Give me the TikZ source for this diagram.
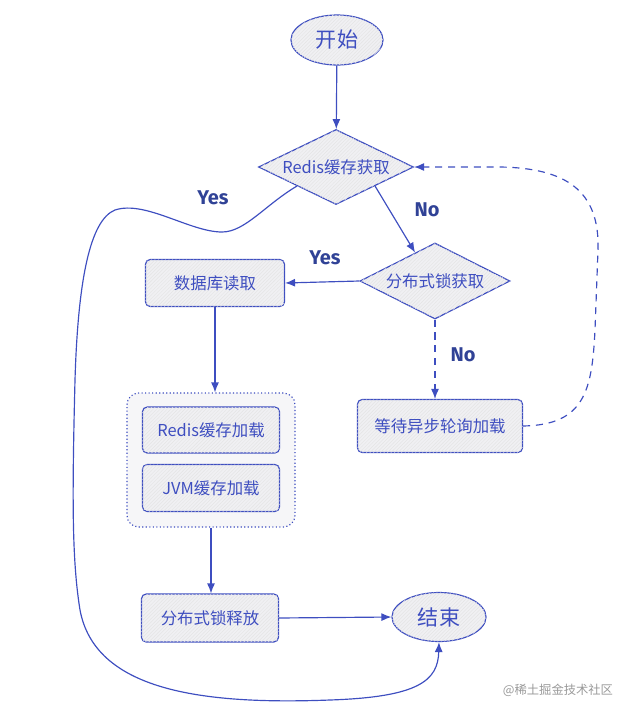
\documentclass[tikz,border=0pt]{standalone}
\usepackage{fontspec}
\setmainfont{Noto Sans CJK SC}
\newfontfamily\labelfont{Fira Sans}
\usetikzlibrary{shapes.geometric, arrows.meta, patterns}
\definecolor{inkblue}{RGB}{62,78,192}
\definecolor{labelblue}{RGB}{48,66,150}
\definecolor{paper}{RGB}{240,240,243}

\begin{document}
\begin{tikzpicture}[
  x=0.03cm, y=-0.03cm,
  every node/.style={text=inkblue, font=\fontsize{14}{16}\selectfont},
  sketch/.style={draw=inkblue, line width=1pt, fill=paper, postaction={pattern=north east lines, pattern color=black!10}},
  box/.style={sketch, rectangle, rounded corners=4pt},
  decision/.style={sketch, diamond, aspect=2, inner sep=0pt},
  terminal/.style={sketch, ellipse, font=\fontsize{18}{20}\selectfont},
  flow/.style={draw=inkblue, line width=1pt, -{Latex[length=3mm, width=2.4mm]}},
  retry/.style={flow, dash pattern=on 6pt off 5pt},
  answer/.style={text=labelblue, font=\labelfont\bfseries\fontsize{17}{19}\selectfont}
]
  \useasboundingbox (0,0) rectangle (637,717);

  \node[terminal, minimum width=2.76cm, minimum height=1.5cm] (start) at (337,40) {开始};
  \node[decision, minimum width=4.65cm, minimum height=2.25cm] (cache) at (336,167) {Redis缓存获取};
  \node[decision, minimum width=4.5cm, minimum height=2.28cm] (lock) at (435,281) {分布式锁获取};
  \node[box, minimum width=4.17cm, minimum height=1.41cm] (db) at (215,283) {数据库读取};
  \node[box, minimum width=4.95cm, minimum height=1.59cm] (wait) at (440,426) {等待异步轮询加载};

  \node[draw=inkblue, line width=1pt, dotted, rounded corners=10pt, fill=paper!60,
    minimum width=5.04cm, minimum height=4.02cm] (loadgroup) at (211,460) {};
  \node[box, minimum width=4.11cm, minimum height=1.38cm] (redisload) at (211,430) {Redis缓存加载};
  \node[box, minimum width=4.11cm, minimum height=1.41cm] (jvmload) at (211,488) {JVM缓存加载};

  \node[box, minimum width=4.11cm, minimum height=1.44cm] (unlock) at (210,618) {分布式锁释放};
  \node[terminal, minimum width=2.82cm, minimum height=1.47cm] (finish) at (439,617) {结束};

  \draw[flow] (start) -- (cache);
  \draw[flow] (cache.south east) -- (lock.125);
  \draw[flow] (lock.west) -- (db.east);
  \draw[flow] (db.south) -- (db.south |- loadgroup.north);
  \draw[flow] (loadgroup.south) -- (loadgroup.south |- unlock.north);
  \draw[flow] (unlock.east) -- (finish.west);
  \draw[retry] (lock.south) -- (lock.south |- wait.north);
  \draw[retry] (wait.east) .. controls (585,425) and (592,390) .. (595,330)
    -- (598,250) .. controls (600,190) and (565,168) .. (500,167) -- (cache.east);
  \draw[flow] (cache.south west) .. controls (265,205) and (245,232) .. (222,232)
    .. controls (190,232) and (145,200) .. (115,210)
    .. controls (90,220) and (78,280) .. (75,380)
    .. controls (72,500) and (72,560) .. (80,610)
    .. controls (95,690) and (200,705) .. (330,700)
    .. controls (420,697) and (438,680) .. (finish.south);

  \node[answer] (yescache) at (213,198) {Yes};
  \node[answer] (nocache) at (427,210) {No};
  \node[answer] (yeslock) at (325,258) {Yes};
  \node[answer] (nolock) at (463,355) {No};
  \node[text=black!40, font=\fontsize{10.5}{12}\selectfont] (mark) at (558,690) {@稀土掘金技术社区};
\end{tikzpicture}
\end{document}
